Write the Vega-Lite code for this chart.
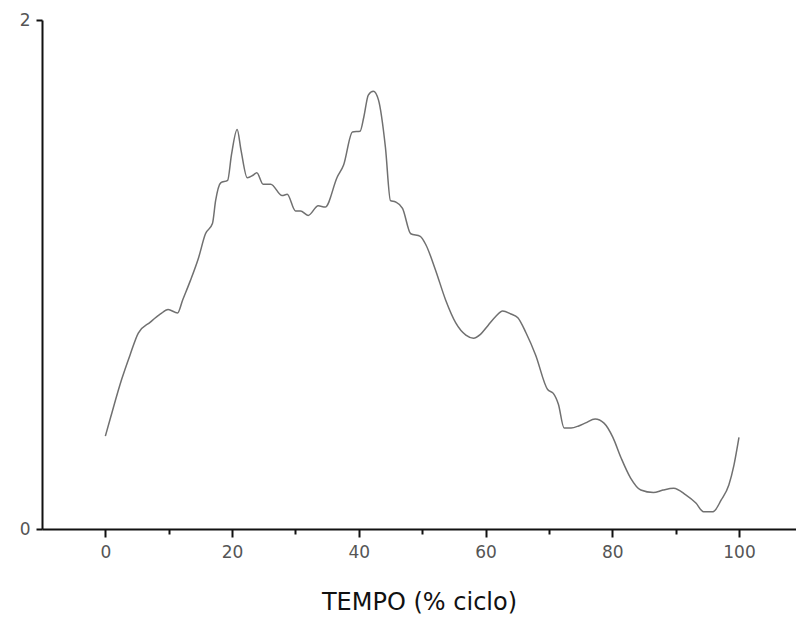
{
  "$schema": "https://vega.github.io/schema/vega-lite/v6.json",
  "width": 754,
  "height": 509,
  "autosize": "none",
  "padding": {"left": 42, "top": 20, "right": 0, "bottom": 112},
  "background": "white",
  "config": {"view": {"stroke": null}},
  "data": {"values": [
    {"t": 0, "v": 0.365},
    {"t": 0.8, "v": 0.436},
    {"t": 2.6, "v": 0.59},
    {"t": 3.9, "v": 0.684},
    {"t": 5.2, "v": 0.77},
    {"t": 7.1, "v": 0.813},
    {"t": 8.7, "v": 0.845},
    {"t": 9.9, "v": 0.862},
    {"t": 11.4, "v": 0.849},
    {"t": 12.2, "v": 0.9},
    {"t": 13.4, "v": 0.975},
    {"t": 14.7, "v": 1.065},
    {"t": 15.8, "v": 1.16},
    {"t": 16.9, "v": 1.2},
    {"t": 17.4, "v": 1.29},
    {"t": 18.2, "v": 1.36},
    {"t": 19.3, "v": 1.37},
    {"t": 19.9, "v": 1.47},
    {"t": 20.8, "v": 1.57},
    {"t": 21.4, "v": 1.49},
    {"t": 22.4, "v": 1.38},
    {"t": 23.3, "v": 1.39},
    {"t": 23.9, "v": 1.4},
    {"t": 24.9, "v": 1.355},
    {"t": 26.1, "v": 1.355},
    {"t": 27.9, "v": 1.31},
    {"t": 28.7, "v": 1.315},
    {"t": 30, "v": 1.25},
    {"t": 30.8, "v": 1.25},
    {"t": 32, "v": 1.232},
    {"t": 33.6, "v": 1.27},
    {"t": 34.7, "v": 1.265},
    {"t": 36.6, "v": 1.383},
    {"t": 37.6, "v": 1.43},
    {"t": 39, "v": 1.56},
    {"t": 40.2, "v": 1.563},
    {"t": 40.8, "v": 1.62},
    {"t": 41.5, "v": 1.705},
    {"t": 42.3, "v": 1.72},
    {"t": 43.1, "v": 1.686},
    {"t": 44.2, "v": 1.5},
    {"t": 45, "v": 1.29},
    {"t": 45.8, "v": 1.285},
    {"t": 46.9, "v": 1.26},
    {"t": 48.2, "v": 1.16},
    {"t": 49.7, "v": 1.15},
    {"t": 50.6, "v": 1.116},
    {"t": 52.1, "v": 1.018},
    {"t": 53.7, "v": 0.9},
    {"t": 55.3, "v": 0.81},
    {"t": 56.9, "v": 0.762},
    {"t": 58.1, "v": 0.75},
    {"t": 59.2, "v": 0.765},
    {"t": 60.4, "v": 0.8},
    {"t": 61.6, "v": 0.835},
    {"t": 62.7, "v": 0.857},
    {"t": 64, "v": 0.845},
    {"t": 65.1, "v": 0.83},
    {"t": 66.4, "v": 0.77},
    {"t": 67.9, "v": 0.684},
    {"t": 69.8, "v": 0.548},
    {"t": 70.7, "v": 0.533},
    {"t": 71.5, "v": 0.49},
    {"t": 72.4, "v": 0.397},
    {"t": 73.5, "v": 0.397},
    {"t": 74.7, "v": 0.405},
    {"t": 75.8, "v": 0.417},
    {"t": 77.3, "v": 0.432},
    {"t": 78.7, "v": 0.416},
    {"t": 80.1, "v": 0.36},
    {"t": 81.4, "v": 0.279},
    {"t": 82.9, "v": 0.2},
    {"t": 84.5, "v": 0.153},
    {"t": 86.5, "v": 0.143},
    {"t": 88, "v": 0.153},
    {"t": 89.7, "v": 0.16},
    {"t": 91.6, "v": 0.134},
    {"t": 93.2, "v": 0.102},
    {"t": 94.4, "v": 0.068},
    {"t": 95.9, "v": 0.068},
    {"t": 97.2, "v": 0.114},
    {"t": 98.4, "v": 0.173},
    {"t": 99.2, "v": 0.25},
    {"t": 100, "v": 0.36}
  ]},
  "mark": {"type": "line", "color": "#707070", "strokeWidth": 1.5, "interpolate": "monotone"},
  "encoding": {
    "x": {
      "field": "t", "type": "quantitative",
      "scale": {"domain": [-10, 109], "nice": false, "zero": false},
      "axis": {
        "orient": "bottom",
        "values": [0, 10, 20, 30, 40, 50, 60, 70, 80, 90, 100],
        "format": "d",
        "labelExpr": "datum.value % 20 == 0 ? datum.label : ''",
        "title": "TEMPO (% ciclo)",
        "titleFont": "DejaVu Sans", "titleFontSize": 24, "titleFontWeight": "normal",
        "titleColor": "#111", "titlePadding": 30,
        "labelFont": "DejaVu Sans", "labelFontSize": 17, "labelColor": "#555",
        "labelPadding": 7,
        "domainColor": "#111", "domainWidth": 2,
        "tickColor": "#111", "tickWidth": 2,
        "tickSize": {"condition": {"test": "datum.value % 20 == 0", "value": 8}, "value": 5},
        "grid": false
      }
    },
    "y": {
      "field": "v", "type": "quantitative",
      "scale": {"domain": [0, 2], "nice": false},
      "axis": {
        "values": [0, 1, 2],
        "format": "d",
        "title": null,
        "labelExpr": "datum.value == 1 ? '' : datum.label",
        "labelFont": "DejaVu Sans", "labelFontSize": 17, "labelColor": "#555",
        "labelPadding": 6,
        "domainColor": "#111", "domainWidth": 2,
        "tickColor": "#111", "tickWidth": 2, "tickSize": 6,
        "grid": false
      }
    }
  }
}
